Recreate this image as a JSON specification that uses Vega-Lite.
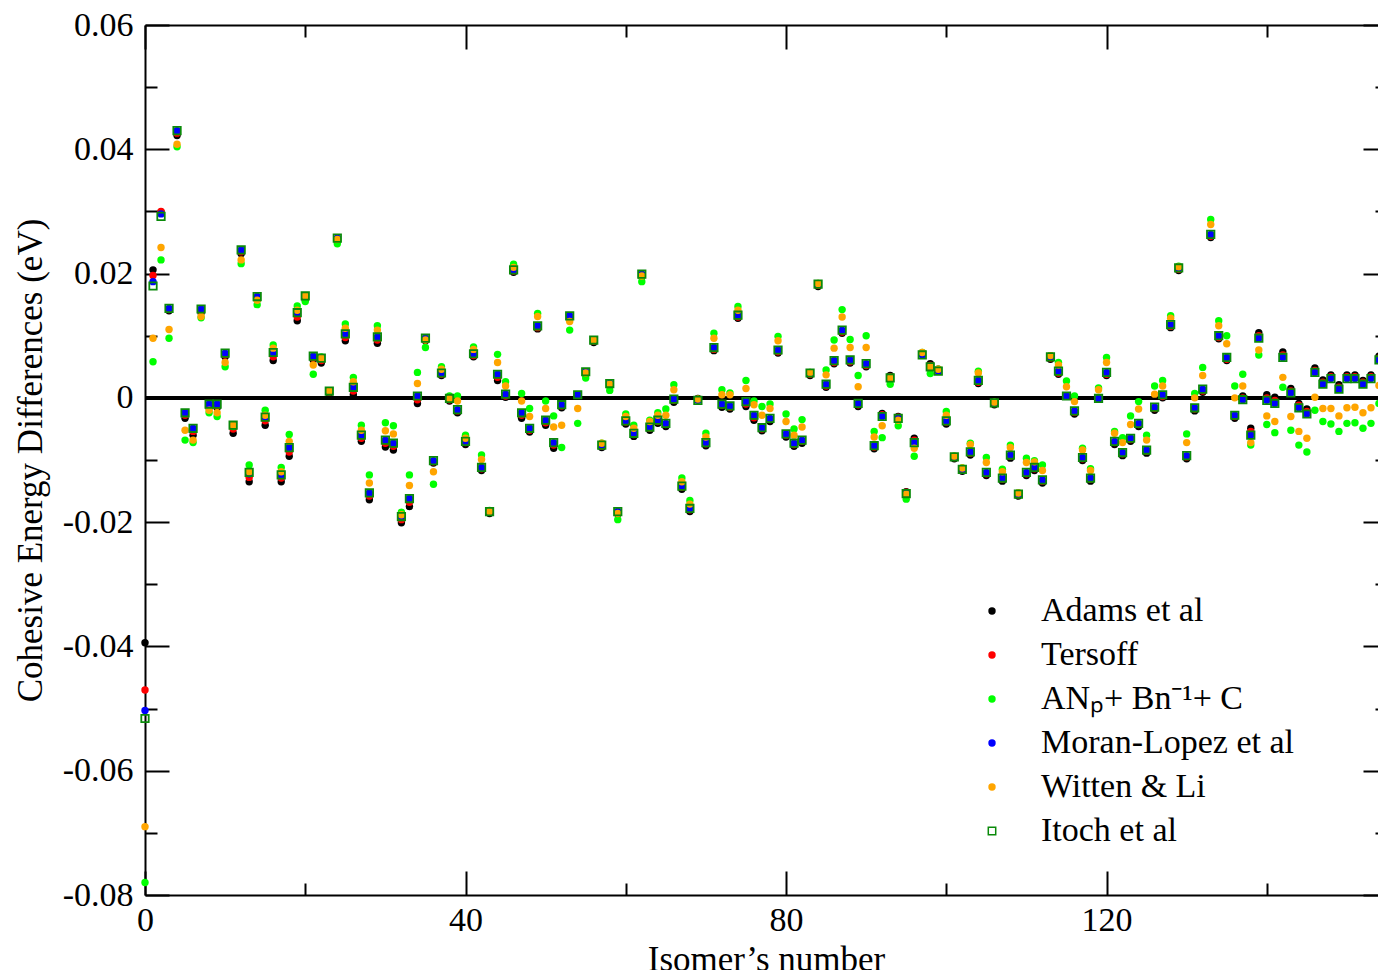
{
"$schema":"https://vega.github.io/schema/vega-lite/v6.json",
"width":1242,"height":870,
"autosize":{"type":"none"},
"padding":{"left":145,"top":25,"right":-9,"bottom":75},
"background":"white",
"config":{"view":{"stroke":null},"font":"Liberation Serif",
"legend":{"orient":"none","legendX":830,"legendY":569,"padding":0,"labelFont":"Liberation Serif","labelFontSize":34,"labelColor":"black","labelOffset":32,"rowPadding":10,"labelLimit":0}},
"data":{"values":[
{"n":0,"s":"a","v":-0.0394},{"n":1,"s":"a","v":0.0206},{"n":2,"s":"a","v":0.0299},{"n":3,"s":"a","v":0.014},{"n":4,"s":"a","v":0.0422},{"n":5,"s":"a","v":-0.0033},{"n":6,"s":"a","v":-0.006},{"n":7,"s":"a","v":0.0137},{"n":8,"s":"a","v":-0.0016},{"n":9,"s":"a","v":-0.0016},
{"n":10,"s":"a","v":0.0066},{"n":11,"s":"a","v":-0.0057},{"n":12,"s":"a","v":0.0232},{"n":13,"s":"a","v":-0.0135},{"n":14,"s":"a","v":0.0158},{"n":15,"s":"a","v":-0.0044},{"n":16,"s":"a","v":0.006},{"n":17,"s":"a","v":-0.0135},{"n":18,"s":"a","v":-0.0094},{"n":19,"s":"a","v":0.0124},
{"n":20,"s":"a","v":0.0158},{"n":21,"s":"a","v":0.0061},{"n":22,"s":"a","v":0.0056},{"n":23,"s":"a","v":0.0007},{"n":24,"s":"a","v":0.0253},{"n":25,"s":"a","v":0.0092},{"n":26,"s":"a","v":0.0005},{"n":27,"s":"a","v":-0.007},{"n":28,"s":"a","v":-0.0164},{"n":29,"s":"a","v":0.0088},
{"n":30,"s":"a","v":-0.0079},{"n":31,"s":"a","v":-0.0084},{"n":32,"s":"a","v":-0.0201},{"n":33,"s":"a","v":-0.0175},{"n":34,"s":"a","v":-0.0009},{"n":35,"s":"a","v":0.0092},{"n":36,"s":"a","v":-0.0105},{"n":37,"s":"a","v":0.0036},{"n":38,"s":"a","v":-0.0005},{"n":39,"s":"a","v":-0.0024},
{"n":40,"s":"a","v":-0.0075},{"n":41,"s":"a","v":0.0066},{"n":42,"s":"a","v":-0.0117},{"n":43,"s":"a","v":-0.0186},{"n":44,"s":"a","v":0.0028},{"n":45,"s":"a","v":0.0001},{"n":46,"s":"a","v":0.0202},{"n":47,"s":"a","v":-0.0033},{"n":48,"s":"a","v":-0.0055},{"n":49,"s":"a","v":0.0111},
{"n":50,"s":"a","v":-0.0044},{"n":51,"s":"a","v":-0.0081},{"n":52,"s":"a","v":-0.0016},{"n":53,"s":"a","v":0.0128},{"n":54,"s":"a","v":0.0004},{"n":55,"s":"a","v":0.0038},{"n":56,"s":"a","v":0.0089},{"n":57,"s":"a","v":-0.008},{"n":58,"s":"a","v":0.0019},{"n":59,"s":"a","v":-0.0187},
{"n":60,"s":"a","v":-0.0042},{"n":61,"s":"a","v":-0.0062},{"n":62,"s":"a","v":0.0195},{"n":63,"s":"a","v":-0.0052},{"n":64,"s":"a","v":-0.0041},{"n":65,"s":"a","v":-0.0046},{"n":66,"s":"a","v":-0.0007},{"n":67,"s":"a","v":-0.0147},{"n":68,"s":"a","v":-0.0183},{"n":69,"s":"a","v":-0.0001},
{"n":70,"s":"a","v":-0.0077},{"n":71,"s":"a","v":0.0076},{"n":72,"s":"a","v":-0.0015},{"n":73,"s":"a","v":-0.0018},{"n":74,"s":"a","v":0.0128},{"n":75,"s":"a","v":-0.0014},{"n":76,"s":"a","v":-0.0036},{"n":77,"s":"a","v":-0.0053},{"n":78,"s":"a","v":-0.0038},{"n":79,"s":"a","v":0.0072},
{"n":80,"s":"a","v":-0.0063},{"n":81,"s":"a","v":-0.0078},{"n":82,"s":"a","v":-0.0073},{"n":83,"s":"a","v":0.0036},{"n":84,"s":"a","v":0.0179},{"n":85,"s":"a","v":0.0017},{"n":86,"s":"a","v":0.0055},{"n":87,"s":"a","v":0.0104},{"n":88,"s":"a","v":0.0056},{"n":89,"s":"a","v":-0.0014},
{"n":90,"s":"a","v":0.005},{"n":91,"s":"a","v":-0.0082},{"n":92,"s":"a","v":-0.0025},{"n":93,"s":"a","v":0.0036},{"n":94,"s":"a","v":-0.003},{"n":95,"s":"a","v":-0.0151},{"n":96,"s":"a","v":-0.0065},{"n":97,"s":"a","v":0.0072},{"n":98,"s":"a","v":0.0055},{"n":99,"s":"a","v":0.0046},
{"n":100,"s":"a","v":-0.0042},{"n":101,"s":"a","v":-0.0098},{"n":102,"s":"a","v":-0.0118},{"n":103,"s":"a","v":-0.0092},{"n":104,"s":"a","v":0.0023},{"n":105,"s":"a","v":-0.0125},{"n":106,"s":"a","v":-0.0011},{"n":107,"s":"a","v":-0.0134},{"n":108,"s":"a","v":-0.0097},{"n":109,"s":"a","v":-0.0158},
{"n":110,"s":"a","v":-0.0125},{"n":111,"s":"a","v":-0.0117},{"n":112,"s":"a","v":-0.0137},{"n":113,"s":"a","v":0.0062},{"n":114,"s":"a","v":0.0038},{"n":115,"s":"a","v":0.0003},{"n":116,"s":"a","v":-0.0026},{"n":117,"s":"a","v":-0.0101},{"n":118,"s":"a","v":-0.0134},{"n":119,"s":"a","v":-0.0001},
{"n":120,"s":"a","v":0.0036},{"n":121,"s":"a","v":-0.0075},{"n":122,"s":"a","v":-0.0093},{"n":123,"s":"a","v":-0.007},{"n":124,"s":"a","v":-0.0046},{"n":125,"s":"a","v":-0.0089},{"n":126,"s":"a","v":-0.002},{"n":127,"s":"a","v":0.0},{"n":128,"s":"a","v":0.0113},{"n":129,"s":"a","v":0.0205},
{"n":130,"s":"a","v":-0.0098},{"n":131,"s":"a","v":-0.0021},{"n":132,"s":"a","v":0.0009},{"n":133,"s":"a","v":0.0258},{"n":134,"s":"a","v":0.0095},{"n":135,"s":"a","v":0.006},{"n":136,"s":"a","v":-0.0033},{"n":137,"s":"a","v":0.0003},{"n":138,"s":"a","v":-0.0049},{"n":139,"s":"a","v":0.0105},
{"n":140,"s":"a","v":0.0005},{"n":141,"s":"a","v":0.0001},{"n":142,"s":"a","v":0.0074},{"n":143,"s":"a","v":0.0015},{"n":144,"s":"a","v":-0.0009},{"n":145,"s":"a","v":-0.0018},{"n":146,"s":"a","v":0.0048},{"n":147,"s":"a","v":0.0029},{"n":148,"s":"a","v":0.0037},{"n":149,"s":"a","v":0.0021},
{"n":150,"s":"a","v":0.0037},{"n":151,"s":"a","v":0.0037},{"n":152,"s":"a","v":0.0028},{"n":153,"s":"a","v":0.0037},{"n":154,"s":"a","v":0.0067},
{"n":0,"s":"t","v":-0.047},{"n":1,"s":"t","v":0.0197},{"n":2,"s":"t","v":0.03},{"n":3,"s":"t","v":0.0142},{"n":4,"s":"t","v":0.0426},{"n":5,"s":"t","v":-0.0028},{"n":6,"s":"t","v":-0.0054},{"n":7,"s":"t","v":0.014},{"n":8,"s":"t","v":-0.0013},{"n":9,"s":"t","v":-0.0013},
{"n":10,"s":"t","v":0.0069},{"n":11,"s":"t","v":-0.005},{"n":12,"s":"t","v":0.0235},{"n":13,"s":"t","v":-0.0128},{"n":14,"s":"t","v":0.016},{"n":15,"s":"t","v":-0.0037},{"n":16,"s":"t","v":0.0066},{"n":17,"s":"t","v":-0.0129},{"n":18,"s":"t","v":-0.0087},{"n":19,"s":"t","v":0.013},
{"n":20,"s":"t","v":0.0161},{"n":21,"s":"t","v":0.0064},{"n":22,"s":"t","v":0.006},{"n":23,"s":"t","v":0.0009},{"n":24,"s":"t","v":0.0255},{"n":25,"s":"t","v":0.0097},{"n":26,"s":"t","v":0.0011},{"n":27,"s":"t","v":-0.0065},{"n":28,"s":"t","v":-0.0158},{"n":29,"s":"t","v":0.0093},
{"n":30,"s":"t","v":-0.0073},{"n":31,"s":"t","v":-0.0078},{"n":32,"s":"t","v":-0.0196},{"n":33,"s":"t","v":-0.0168},{"n":34,"s":"t","v":-0.0003},{"n":35,"s":"t","v":0.0094},{"n":36,"s":"t","v":-0.0103},{"n":37,"s":"t","v":0.0038},{"n":38,"s":"t","v":-0.0003},{"n":39,"s":"t","v":-0.0021},
{"n":40,"s":"t","v":-0.0072},{"n":41,"s":"t","v":0.0068},{"n":42,"s":"t","v":-0.0114},{"n":43,"s":"t","v":-0.0184},{"n":44,"s":"t","v":0.0033},{"n":45,"s":"t","v":0.0003},{"n":46,"s":"t","v":0.0204},{"n":47,"s":"t","v":-0.0028},{"n":48,"s":"t","v":-0.0052},{"n":49,"s":"t","v":0.0113},
{"n":50,"s":"t","v":-0.004},{"n":51,"s":"t","v":-0.0076},{"n":52,"s":"t","v":-0.0013},{"n":53,"s":"t","v":0.013},{"n":54,"s":"t","v":0.0004},{"n":55,"s":"t","v":0.004},{"n":56,"s":"t","v":0.0091},{"n":57,"s":"t","v":-0.0078},{"n":58,"s":"t","v":0.0021},{"n":59,"s":"t","v":-0.0185},
{"n":60,"s":"t","v":-0.0039},{"n":61,"s":"t","v":-0.0059},{"n":62,"s":"t","v":0.0197},{"n":63,"s":"t","v":-0.0049},{"n":64,"s":"t","v":-0.0038},{"n":65,"s":"t","v":-0.0043},{"n":66,"s":"t","v":-0.0004},{"n":67,"s":"t","v":-0.0144},{"n":68,"s":"t","v":-0.018},{"n":69,"s":"t","v":-0.0002},
{"n":70,"s":"t","v":-0.0074},{"n":71,"s":"t","v":0.0078},{"n":72,"s":"t","v":-0.0012},{"n":73,"s":"t","v":-0.0015},{"n":74,"s":"t","v":0.013},{"n":75,"s":"t","v":-0.001},{"n":76,"s":"t","v":-0.0032},{"n":77,"s":"t","v":-0.005},{"n":78,"s":"t","v":-0.0035},{"n":79,"s":"t","v":0.0074},
{"n":80,"s":"t","v":-0.006},{"n":81,"s":"t","v":-0.0075},{"n":82,"s":"t","v":-0.007},{"n":83,"s":"t","v":0.0038},{"n":84,"s":"t","v":0.0181},{"n":85,"s":"t","v":0.0019},{"n":86,"s":"t","v":0.0057},{"n":87,"s":"t","v":0.0106},{"n":88,"s":"t","v":0.0058},{"n":89,"s":"t","v":-0.0011},
{"n":90,"s":"t","v":0.0052},{"n":91,"s":"t","v":-0.0079},{"n":92,"s":"t","v":-0.0027},{"n":93,"s":"t","v":0.0034},{"n":94,"s":"t","v":-0.0031},{"n":95,"s":"t","v":-0.0152},{"n":96,"s":"t","v":-0.0068},{"n":97,"s":"t","v":0.007},{"n":98,"s":"t","v":0.0052},{"n":99,"s":"t","v":0.0044},
{"n":100,"s":"t","v":-0.0039},{"n":101,"s":"t","v":-0.0096},{"n":102,"s":"t","v":-0.0116},{"n":103,"s":"t","v":-0.0089},{"n":104,"s":"t","v":0.0025},{"n":105,"s":"t","v":-0.0122},{"n":106,"s":"t","v":-0.0009},{"n":107,"s":"t","v":-0.0131},{"n":108,"s":"t","v":-0.0094},{"n":109,"s":"t","v":-0.0156},
{"n":110,"s":"t","v":-0.0122},{"n":111,"s":"t","v":-0.0114},{"n":112,"s":"t","v":-0.0134},{"n":113,"s":"t","v":0.0064},{"n":114,"s":"t","v":0.004},{"n":115,"s":"t","v":0.0003},{"n":116,"s":"t","v":-0.0023},{"n":117,"s":"t","v":-0.0098},{"n":118,"s":"t","v":-0.0131},{"n":119,"s":"t","v":-0.0001},
{"n":120,"s":"t","v":0.0038},{"n":121,"s":"t","v":-0.0072},{"n":122,"s":"t","v":-0.009},{"n":123,"s":"t","v":-0.0067},{"n":124,"s":"t","v":-0.0043},{"n":125,"s":"t","v":-0.0086},{"n":126,"s":"t","v":-0.0017},{"n":127,"s":"t","v":0.0002},{"n":128,"s":"t","v":0.0115},{"n":129,"s":"t","v":0.0207},
{"n":130,"s":"t","v":-0.0095},{"n":131,"s":"t","v":-0.0018},{"n":132,"s":"t","v":0.0011},{"n":133,"s":"t","v":0.026},{"n":134,"s":"t","v":0.0097},{"n":135,"s":"t","v":0.0062},{"n":136,"s":"t","v":-0.003},{"n":137,"s":"t","v":0.0},{"n":138,"s":"t","v":-0.0054},{"n":139,"s":"t","v":0.01},
{"n":140,"s":"t","v":0.0},{"n":141,"s":"t","v":-0.0004},{"n":142,"s":"t","v":0.0069},{"n":143,"s":"t","v":0.0011},{"n":144,"s":"t","v":-0.0012},{"n":145,"s":"t","v":-0.0022},{"n":146,"s":"t","v":0.0044},{"n":147,"s":"t","v":0.0025},{"n":148,"s":"t","v":0.0034},{"n":149,"s":"t","v":0.0017},
{"n":150,"s":"t","v":0.0034},{"n":151,"s":"t","v":0.0034},{"n":152,"s":"t","v":0.0025},{"n":153,"s":"t","v":0.0034},{"n":154,"s":"t","v":0.0064},
{"n":0,"s":"g","v":-0.078},{"n":1,"s":"g","v":0.0058},{"n":2,"s":"g","v":0.0222},{"n":3,"s":"g","v":0.0096},{"n":4,"s":"g","v":0.0404},{"n":5,"s":"g","v":-0.0068},{"n":6,"s":"g","v":-0.0072},{"n":7,"s":"g","v":0.0129},{"n":8,"s":"g","v":-0.0024},{"n":9,"s":"g","v":-0.003},
{"n":10,"s":"g","v":0.005},{"n":11,"s":"g","v":-0.0046},{"n":12,"s":"g","v":0.0216},{"n":13,"s":"g","v":-0.0108},{"n":14,"s":"g","v":0.015},{"n":15,"s":"g","v":-0.002},{"n":16,"s":"g","v":0.0085},{"n":17,"s":"g","v":-0.0112},{"n":18,"s":"g","v":-0.0059},{"n":19,"s":"g","v":0.0148},
{"n":20,"s":"g","v":0.0155},{"n":21,"s":"g","v":0.0038},{"n":22,"s":"g","v":0.0066},{"n":23,"s":"g","v":0.0011},{"n":24,"s":"g","v":0.0248},{"n":25,"s":"g","v":0.0119},{"n":26,"s":"g","v":0.0033},{"n":27,"s":"g","v":-0.0044},{"n":28,"s":"g","v":-0.0124},{"n":29,"s":"g","v":0.0116},
{"n":30,"s":"g","v":-0.004},{"n":31,"s":"g","v":-0.0045},{"n":32,"s":"g","v":-0.0184},{"n":33,"s":"g","v":-0.0124},{"n":34,"s":"g","v":0.0041},{"n":35,"s":"g","v":0.0081},{"n":36,"s":"g","v":-0.0139},{"n":37,"s":"g","v":0.005},{"n":38,"s":"g","v":0.0003},{"n":39,"s":"g","v":0.0003},
{"n":40,"s":"g","v":-0.006},{"n":41,"s":"g","v":0.0082},{"n":42,"s":"g","v":-0.0092},{"n":43,"s":"g","v":-0.0181},{"n":44,"s":"g","v":0.007},{"n":45,"s":"g","v":0.0026},{"n":46,"s":"g","v":0.0215},{"n":47,"s":"g","v":0.0007},{"n":48,"s":"g","v":-0.0017},{"n":49,"s":"g","v":0.0136},
{"n":50,"s":"g","v":-0.0005},{"n":51,"s":"g","v":-0.0029},{"n":52,"s":"g","v":-0.008},{"n":53,"s":"g","v":0.0109},{"n":54,"s":"g","v":-0.0041},{"n":55,"s":"g","v":0.0032},{"n":56,"s":"g","v":0.0093},{"n":57,"s":"g","v":-0.0073},{"n":58,"s":"g","v":0.0012},{"n":59,"s":"g","v":-0.0196},
{"n":60,"s":"g","v":-0.0026},{"n":61,"s":"g","v":-0.0044},{"n":62,"s":"g","v":0.0187},{"n":63,"s":"g","v":-0.0036},{"n":64,"s":"g","v":-0.0024},{"n":65,"s":"g","v":-0.0018},{"n":66,"s":"g","v":0.0021},{"n":67,"s":"g","v":-0.0129},{"n":68,"s":"g","v":-0.0165},{"n":69,"s":"g","v":-0.0002},
{"n":70,"s":"g","v":-0.0057},{"n":71,"s":"g","v":0.0104},{"n":72,"s":"g","v":0.0013},{"n":73,"s":"g","v":0.0008},{"n":74,"s":"g","v":0.0147},{"n":75,"s":"g","v":0.0028},{"n":76,"s":"g","v":-0.0005},{"n":77,"s":"g","v":-0.0014},{"n":78,"s":"g","v":-0.001},{"n":79,"s":"g","v":0.0099},
{"n":80,"s":"g","v":-0.0026},{"n":81,"s":"g","v":-0.005},{"n":82,"s":"g","v":-0.0035},{"n":83,"s":"g","v":0.0041},{"n":84,"s":"g","v":0.0184},{"n":85,"s":"g","v":0.0045},{"n":86,"s":"g","v":0.0093},{"n":87,"s":"g","v":0.0142},{"n":88,"s":"g","v":0.0094},{"n":89,"s":"g","v":0.0036},
{"n":90,"s":"g","v":0.01},{"n":91,"s":"g","v":-0.0054},{"n":92,"s":"g","v":-0.0064},{"n":93,"s":"g","v":0.0022},{"n":94,"s":"g","v":-0.0045},{"n":95,"s":"g","v":-0.0163},{"n":96,"s":"g","v":-0.0094},{"n":97,"s":"g","v":0.0073},{"n":98,"s":"g","v":0.0039},{"n":99,"s":"g","v":0.0046},
{"n":100,"s":"g","v":-0.0022},{"n":101,"s":"g","v":-0.0094},{"n":102,"s":"g","v":-0.0113},{"n":103,"s":"g","v":-0.0073},{"n":104,"s":"g","v":0.0043},{"n":105,"s":"g","v":-0.0096},{"n":106,"s":"g","v":-0.0007},{"n":107,"s":"g","v":-0.0115},{"n":108,"s":"g","v":-0.0076},{"n":109,"s":"g","v":-0.0153},
{"n":110,"s":"g","v":-0.0097},{"n":111,"s":"g","v":-0.0101},{"n":112,"s":"g","v":-0.0108},{"n":113,"s":"g","v":0.0068},{"n":114,"s":"g","v":0.0057},{"n":115,"s":"g","v":0.0027},{"n":116,"s":"g","v":0.0003},{"n":117,"s":"g","v":-0.0081},{"n":118,"s":"g","v":-0.0114},{"n":119,"s":"g","v":0.0016},
{"n":120,"s":"g","v":0.0065},{"n":121,"s":"g","v":-0.0054},{"n":122,"s":"g","v":-0.0064},{"n":123,"s":"g","v":-0.0029},{"n":124,"s":"g","v":-0.0006},{"n":125,"s":"g","v":-0.006},{"n":126,"s":"g","v":0.0019},{"n":127,"s":"g","v":0.0028},{"n":128,"s":"g","v":0.0132},{"n":129,"s":"g","v":0.0212},
{"n":130,"s":"g","v":-0.0058},{"n":131,"s":"g","v":0.0007},{"n":132,"s":"g","v":0.0049},{"n":133,"s":"g","v":0.0287},{"n":134,"s":"g","v":0.0124},{"n":135,"s":"g","v":0.01},{"n":136,"s":"g","v":0.0019},{"n":137,"s":"g","v":0.0038},{"n":138,"s":"g","v":-0.0076},{"n":139,"s":"g","v":0.0069},
{"n":140,"s":"g","v":-0.0043},{"n":141,"s":"g","v":-0.0056},{"n":142,"s":"g","v":0.0017},{"n":143,"s":"g","v":-0.0052},{"n":144,"s":"g","v":-0.0076},{"n":145,"s":"g","v":-0.0087},{"n":146,"s":"g","v":-0.002},{"n":147,"s":"g","v":-0.0038},{"n":148,"s":"g","v":-0.0042},{"n":149,"s":"g","v":-0.0054},
{"n":150,"s":"g","v":-0.0041},{"n":151,"s":"g","v":-0.004},{"n":152,"s":"g","v":-0.0049},{"n":153,"s":"g","v":-0.0041},{"n":154,"s":"g","v":-0.0009},
{"n":0,"s":"m","v":-0.0503},{"n":1,"s":"m","v":0.0187},{"n":2,"s":"m","v":0.0296},{"n":3,"s":"m","v":0.0144},{"n":4,"s":"m","v":0.043},{"n":5,"s":"m","v":-0.0024},{"n":6,"s":"m","v":-0.0049},{"n":7,"s":"m","v":0.0143},{"n":8,"s":"m","v":-0.001},{"n":9,"s":"m","v":-0.001},
{"n":10,"s":"m","v":0.0072},{"n":11,"s":"m","v":-0.0044},{"n":12,"s":"m","v":0.0238},{"n":13,"s":"m","v":-0.0122},{"n":14,"s":"m","v":0.0163},{"n":15,"s":"m","v":-0.0031},{"n":16,"s":"m","v":0.0073},{"n":17,"s":"m","v":-0.0124},{"n":18,"s":"m","v":-0.008},{"n":19,"s":"m","v":0.0137},
{"n":20,"s":"m","v":0.0164},{"n":21,"s":"m","v":0.0067},{"n":22,"s":"m","v":0.0064},{"n":23,"s":"m","v":0.0011},{"n":24,"s":"m","v":0.0257},{"n":25,"s":"m","v":0.0103},{"n":26,"s":"m","v":0.0017},{"n":27,"s":"m","v":-0.006},{"n":28,"s":"m","v":-0.0153},{"n":29,"s":"m","v":0.0098},
{"n":30,"s":"m","v":-0.0068},{"n":31,"s":"m","v":-0.0073},{"n":32,"s":"m","v":-0.0191},{"n":33,"s":"m","v":-0.0162},{"n":34,"s":"m","v":0.0003},{"n":35,"s":"m","v":0.0096},{"n":36,"s":"m","v":-0.0101},{"n":37,"s":"m","v":0.004},{"n":38,"s":"m","v":-0.0001},{"n":39,"s":"m","v":-0.0019},
{"n":40,"s":"m","v":-0.007},{"n":41,"s":"m","v":0.0071},{"n":42,"s":"m","v":-0.0112},{"n":43,"s":"m","v":-0.0183},{"n":44,"s":"m","v":0.0038},{"n":45,"s":"m","v":0.0006},{"n":46,"s":"m","v":0.0206},{"n":47,"s":"m","v":-0.0024},{"n":48,"s":"m","v":-0.0049},{"n":49,"s":"m","v":0.0116},
{"n":50,"s":"m","v":-0.0036},{"n":51,"s":"m","v":-0.0072},{"n":52,"s":"m","v":-0.0011},{"n":53,"s":"m","v":0.0132},{"n":54,"s":"m","v":0.0005},{"n":55,"s":"m","v":0.0042},{"n":56,"s":"m","v":0.0093},{"n":57,"s":"m","v":-0.0076},{"n":58,"s":"m","v":0.0023},{"n":59,"s":"m","v":-0.0183},
{"n":60,"s":"m","v":-0.0037},{"n":61,"s":"m","v":-0.0057},{"n":62,"s":"m","v":0.0199},{"n":63,"s":"m","v":-0.0047},{"n":64,"s":"m","v":-0.0036},{"n":65,"s":"m","v":-0.0041},{"n":66,"s":"m","v":-0.0002},{"n":67,"s":"m","v":-0.0142},{"n":68,"s":"m","v":-0.0178},{"n":69,"s":"m","v":-0.0004},
{"n":70,"s":"m","v":-0.0072},{"n":71,"s":"m","v":0.0081},{"n":72,"s":"m","v":-0.001},{"n":73,"s":"m","v":-0.0013},{"n":74,"s":"m","v":0.0133},{"n":75,"s":"m","v":-0.0006},{"n":76,"s":"m","v":-0.0028},{"n":77,"s":"m","v":-0.0048},{"n":78,"s":"m","v":-0.0033},{"n":79,"s":"m","v":0.0077},
{"n":80,"s":"m","v":-0.0058},{"n":81,"s":"m","v":-0.0073},{"n":82,"s":"m","v":-0.0068},{"n":83,"s":"m","v":0.004},{"n":84,"s":"m","v":0.0183},{"n":85,"s":"m","v":0.0022},{"n":86,"s":"m","v":0.006},{"n":87,"s":"m","v":0.0109},{"n":88,"s":"m","v":0.0061},{"n":89,"s":"m","v":-0.0009},
{"n":90,"s":"m","v":0.0055},{"n":91,"s":"m","v":-0.0077},{"n":92,"s":"m","v":-0.003},{"n":93,"s":"m","v":0.0032},{"n":94,"s":"m","v":-0.0033},{"n":95,"s":"m","v":-0.0154},{"n":96,"s":"m","v":-0.0072},{"n":97,"s":"m","v":0.0069},{"n":98,"s":"m","v":0.005},{"n":99,"s":"m","v":0.0043},
{"n":100,"s":"m","v":-0.0037},{"n":101,"s":"m","v":-0.0095},{"n":102,"s":"m","v":-0.0115},{"n":103,"s":"m","v":-0.0087},{"n":104,"s":"m","v":0.0028},{"n":105,"s":"m","v":-0.012},{"n":106,"s":"m","v":-0.0008},{"n":107,"s":"m","v":-0.0129},{"n":108,"s":"m","v":-0.0092},{"n":109,"s":"m","v":-0.0155},
{"n":110,"s":"m","v":-0.012},{"n":111,"s":"m","v":-0.0112},{"n":112,"s":"m","v":-0.0132},{"n":113,"s":"m","v":0.0066},{"n":114,"s":"m","v":0.0043},{"n":115,"s":"m","v":0.0003},{"n":116,"s":"m","v":-0.0021},{"n":117,"s":"m","v":-0.0096},{"n":118,"s":"m","v":-0.0129},{"n":119,"s":"m","v":-0.0001},
{"n":120,"s":"m","v":0.0041},{"n":121,"s":"m","v":-0.007},{"n":122,"s":"m","v":-0.0088},{"n":123,"s":"m","v":-0.0065},{"n":124,"s":"m","v":-0.0041},{"n":125,"s":"m","v":-0.0084},{"n":126,"s":"m","v":-0.0015},{"n":127,"s":"m","v":0.0005},{"n":128,"s":"m","v":0.0118},{"n":129,"s":"m","v":0.0209},
{"n":130,"s":"m","v":-0.0093},{"n":131,"s":"m","v":-0.0016},{"n":132,"s":"m","v":0.0014},{"n":133,"s":"m","v":0.0263},{"n":134,"s":"m","v":0.01},{"n":135,"s":"m","v":0.0065},{"n":136,"s":"m","v":-0.0028},{"n":137,"s":"m","v":-0.0003},{"n":138,"s":"m","v":-0.006},{"n":139,"s":"m","v":0.0096},
{"n":140,"s":"m","v":-0.0004},{"n":141,"s":"m","v":-0.0009},{"n":142,"s":"m","v":0.0065},{"n":143,"s":"m","v":0.0008},{"n":144,"s":"m","v":-0.0016},{"n":145,"s":"m","v":-0.0026},{"n":146,"s":"m","v":0.0041},{"n":147,"s":"m","v":0.0022},{"n":148,"s":"m","v":0.0031},{"n":149,"s":"m","v":0.0014},
{"n":150,"s":"m","v":0.0031},{"n":151,"s":"m","v":0.0031},{"n":152,"s":"m","v":0.0022},{"n":153,"s":"m","v":0.0031},{"n":154,"s":"m","v":0.0061},
{"n":0,"s":"w","v":-0.069},{"n":1,"s":"w","v":0.0096},{"n":2,"s":"w","v":0.0242},{"n":3,"s":"w","v":0.011},{"n":4,"s":"w","v":0.0408},{"n":5,"s":"w","v":-0.0052},{"n":6,"s":"w","v":-0.0068},{"n":7,"s":"w","v":0.0131},{"n":8,"s":"w","v":-0.002},{"n":9,"s":"w","v":-0.0024},
{"n":10,"s":"w","v":0.0057},{"n":11,"s":"w","v":-0.0044},{"n":12,"s":"w","v":0.0222},{"n":13,"s":"w","v":-0.0119},{"n":14,"s":"w","v":0.0157},{"n":15,"s":"w","v":-0.0028},{"n":16,"s":"w","v":0.008},{"n":17,"s":"w","v":-0.0119},{"n":18,"s":"w","v":-0.007},{"n":19,"s":"w","v":0.0141},
{"n":20,"s":"w","v":0.0164},{"n":21,"s":"w","v":0.0053},{"n":22,"s":"w","v":0.0064},{"n":23,"s":"w","v":0.0011},{"n":24,"s":"w","v":0.0255},{"n":25,"s":"w","v":0.0112},{"n":26,"s":"w","v":0.0026},{"n":27,"s":"w","v":-0.0052},{"n":28,"s":"w","v":-0.0137},{"n":29,"s":"w","v":0.0109},
{"n":30,"s":"w","v":-0.0053},{"n":31,"s":"w","v":-0.0058},{"n":32,"s":"w","v":-0.0188},{"n":33,"s":"w","v":-0.0141},{"n":34,"s":"w","v":0.0023},{"n":35,"s":"w","v":0.0093},{"n":36,"s":"w","v":-0.0119},{"n":37,"s":"w","v":0.0046},{"n":38,"s":"w","v":-0.0001},{"n":39,"s":"w","v":-0.0005},
{"n":40,"s":"w","v":-0.0065},{"n":41,"s":"w","v":0.0078},{"n":42,"s":"w","v":-0.0099},{"n":43,"s":"w","v":-0.0183},{"n":44,"s":"w","v":0.0057},{"n":45,"s":"w","v":0.0019},{"n":46,"s":"w","v":0.021},{"n":47,"s":"w","v":-0.0005},{"n":48,"s":"w","v":-0.003},{"n":49,"s":"w","v":0.0131},
{"n":50,"s":"w","v":-0.0017},{"n":51,"s":"w","v":-0.0047},{"n":52,"s":"w","v":-0.0044},{"n":53,"s":"w","v":0.0123},{"n":54,"s":"w","v":-0.0017},{"n":55,"s":"w","v":0.004},{"n":56,"s":"w","v":0.0093},{"n":57,"s":"w","v":-0.0073},{"n":58,"s":"w","v":0.0022},{"n":59,"s":"w","v":-0.0186},
{"n":60,"s":"w","v":-0.003},{"n":61,"s":"w","v":-0.0049},{"n":62,"s":"w","v":0.0196},{"n":63,"s":"w","v":-0.0038},{"n":64,"s":"w","v":-0.0028},{"n":65,"s":"w","v":-0.0028},{"n":66,"s":"w","v":0.0013},{"n":67,"s":"w","v":-0.0135},{"n":68,"s":"w","v":-0.0171},{"n":69,"s":"w","v":-0.0002},
{"n":70,"s":"w","v":-0.0063},{"n":71,"s":"w","v":0.0096},{"n":72,"s":"w","v":0.0005},{"n":73,"s":"w","v":0.0005},{"n":74,"s":"w","v":0.0141},{"n":75,"s":"w","v":0.0015},{"n":76,"s":"w","v":-0.0011},{"n":77,"s":"w","v":-0.0028},{"n":78,"s":"w","v":-0.0017},{"n":79,"s":"w","v":0.0092},
{"n":80,"s":"w","v":-0.0038},{"n":81,"s":"w","v":-0.006},{"n":82,"s":"w","v":-0.0047},{"n":83,"s":"w","v":0.0041},{"n":84,"s":"w","v":0.0184},{"n":85,"s":"w","v":0.0037},{"n":86,"s":"w","v":0.008},{"n":87,"s":"w","v":0.013},{"n":88,"s":"w","v":0.0081},{"n":89,"s":"w","v":0.0018},
{"n":90,"s":"w","v":0.0081},{"n":91,"s":"w","v":-0.0063},{"n":92,"s":"w","v":-0.0045},{"n":93,"s":"w","v":0.0032},{"n":94,"s":"w","v":-0.0036},{"n":95,"s":"w","v":-0.0155},{"n":96,"s":"w","v":-0.0081},{"n":97,"s":"w","v":0.0073},{"n":98,"s":"w","v":0.005},{"n":99,"s":"w","v":0.0046},
{"n":100,"s":"w","v":-0.0028},{"n":101,"s":"w","v":-0.0094},{"n":102,"s":"w","v":-0.0113},{"n":103,"s":"w","v":-0.0075},{"n":104,"s":"w","v":0.004},{"n":105,"s":"w","v":-0.0104},{"n":106,"s":"w","v":-0.0007},{"n":107,"s":"w","v":-0.0119},{"n":108,"s":"w","v":-0.008},{"n":109,"s":"w","v":-0.0153},
{"n":110,"s":"w","v":-0.0104},{"n":111,"s":"w","v":-0.0103},{"n":112,"s":"w","v":-0.0117},{"n":113,"s":"w","v":0.0068},{"n":114,"s":"w","v":0.0053},{"n":115,"s":"w","v":0.0018},{"n":116,"s":"w","v":-0.0006},{"n":117,"s":"w","v":-0.0084},{"n":118,"s":"w","v":-0.0117},{"n":119,"s":"w","v":0.0013},
{"n":120,"s":"w","v":0.0057},{"n":121,"s":"w","v":-0.0057},{"n":122,"s":"w","v":-0.0072},{"n":123,"s":"w","v":-0.0043},{"n":124,"s":"w","v":-0.0018},{"n":125,"s":"w","v":-0.0068},{"n":126,"s":"w","v":0.0006},{"n":127,"s":"w","v":0.0019},{"n":128,"s":"w","v":0.0128},{"n":129,"s":"w","v":0.0211},
{"n":130,"s":"w","v":-0.0072},{"n":131,"s":"w","v":0.0},{"n":132,"s":"w","v":0.0036},{"n":133,"s":"w","v":0.0279},{"n":134,"s":"w","v":0.0116},{"n":135,"s":"w","v":0.0087},{"n":136,"s":"w","v":0.0},{"n":137,"s":"w","v":0.0019},{"n":138,"s":"w","v":-0.0072},{"n":139,"s":"w","v":0.0077},
{"n":140,"s":"w","v":-0.0029},{"n":141,"s":"w","v":-0.0038},{"n":142,"s":"w","v":0.0033},{"n":143,"s":"w","v":-0.003},{"n":144,"s":"w","v":-0.0054},{"n":145,"s":"w","v":-0.0065},{"n":146,"s":"w","v":0.0001},{"n":147,"s":"w","v":-0.0017},{"n":148,"s":"w","v":-0.0017},{"n":149,"s":"w","v":-0.0029},
{"n":150,"s":"w","v":-0.0016},{"n":151,"s":"w","v":-0.0015},{"n":152,"s":"w","v":-0.0024},{"n":153,"s":"w","v":-0.0016},{"n":154,"s":"w","v":0.002},
{"n":0,"s":"i","v":-0.0516},{"n":1,"s":"i","v":0.018},{"n":2,"s":"i","v":0.0292},{"n":3,"s":"i","v":0.0144},{"n":4,"s":"i","v":0.043},{"n":5,"s":"i","v":-0.0024},{"n":6,"s":"i","v":-0.0049},{"n":7,"s":"i","v":0.0143},{"n":8,"s":"i","v":-0.001},{"n":9,"s":"i","v":-0.001},
{"n":10,"s":"i","v":0.0072},{"n":11,"s":"i","v":-0.0044},{"n":12,"s":"i","v":0.0238},{"n":13,"s":"i","v":-0.012},{"n":14,"s":"i","v":0.0163},{"n":15,"s":"i","v":-0.0031},{"n":16,"s":"i","v":0.0073},{"n":17,"s":"i","v":-0.0124},{"n":18,"s":"i","v":-0.008},{"n":19,"s":"i","v":0.0137},
{"n":20,"s":"i","v":0.0164},{"n":21,"s":"i","v":0.0067},{"n":22,"s":"i","v":0.0064},{"n":23,"s":"i","v":0.0011},{"n":24,"s":"i","v":0.0257},{"n":25,"s":"i","v":0.0103},{"n":26,"s":"i","v":0.0017},{"n":27,"s":"i","v":-0.006},{"n":28,"s":"i","v":-0.0153},{"n":29,"s":"i","v":0.0098},
{"n":30,"s":"i","v":-0.0068},{"n":31,"s":"i","v":-0.0073},{"n":32,"s":"i","v":-0.0191},{"n":33,"s":"i","v":-0.0162},{"n":34,"s":"i","v":0.0003},{"n":35,"s":"i","v":0.0096},{"n":36,"s":"i","v":-0.0101},{"n":37,"s":"i","v":0.004},{"n":38,"s":"i","v":-0.0001},{"n":39,"s":"i","v":-0.0019},
{"n":40,"s":"i","v":-0.007},{"n":41,"s":"i","v":0.0071},{"n":42,"s":"i","v":-0.0112},{"n":43,"s":"i","v":-0.0183},{"n":44,"s":"i","v":0.0038},{"n":45,"s":"i","v":0.0006},{"n":46,"s":"i","v":0.0206},{"n":47,"s":"i","v":-0.0024},{"n":48,"s":"i","v":-0.0049},{"n":49,"s":"i","v":0.0116},
{"n":50,"s":"i","v":-0.0036},{"n":51,"s":"i","v":-0.0072},{"n":52,"s":"i","v":-0.0011},{"n":53,"s":"i","v":0.0132},{"n":54,"s":"i","v":0.0005},{"n":55,"s":"i","v":0.0042},{"n":56,"s":"i","v":0.0093},{"n":57,"s":"i","v":-0.0076},{"n":58,"s":"i","v":0.0023},{"n":59,"s":"i","v":-0.0183},
{"n":60,"s":"i","v":-0.0037},{"n":61,"s":"i","v":-0.0057},{"n":62,"s":"i","v":0.0199},{"n":63,"s":"i","v":-0.0047},{"n":64,"s":"i","v":-0.0036},{"n":65,"s":"i","v":-0.0041},{"n":66,"s":"i","v":-0.0002},{"n":67,"s":"i","v":-0.0142},{"n":68,"s":"i","v":-0.0178},{"n":69,"s":"i","v":-0.0004},
{"n":70,"s":"i","v":-0.0072},{"n":71,"s":"i","v":0.0081},{"n":72,"s":"i","v":-0.001},{"n":73,"s":"i","v":-0.0013},{"n":74,"s":"i","v":0.0133},{"n":75,"s":"i","v":-0.0006},{"n":76,"s":"i","v":-0.0028},{"n":77,"s":"i","v":-0.0048},{"n":78,"s":"i","v":-0.0033},{"n":79,"s":"i","v":0.0077},
{"n":80,"s":"i","v":-0.0058},{"n":81,"s":"i","v":-0.0073},{"n":82,"s":"i","v":-0.0068},{"n":83,"s":"i","v":0.004},{"n":84,"s":"i","v":0.0183},{"n":85,"s":"i","v":0.0022},{"n":86,"s":"i","v":0.006},{"n":87,"s":"i","v":0.0109},{"n":88,"s":"i","v":0.0061},{"n":89,"s":"i","v":-0.0009},
{"n":90,"s":"i","v":0.0055},{"n":91,"s":"i","v":-0.0077},{"n":92,"s":"i","v":-0.003},{"n":93,"s":"i","v":0.0032},{"n":94,"s":"i","v":-0.0033},{"n":95,"s":"i","v":-0.0154},{"n":96,"s":"i","v":-0.0072},{"n":97,"s":"i","v":0.0069},{"n":98,"s":"i","v":0.005},{"n":99,"s":"i","v":0.0043},
{"n":100,"s":"i","v":-0.0037},{"n":101,"s":"i","v":-0.0095},{"n":102,"s":"i","v":-0.0115},{"n":103,"s":"i","v":-0.0087},{"n":104,"s":"i","v":0.0028},{"n":105,"s":"i","v":-0.012},{"n":106,"s":"i","v":-0.0008},{"n":107,"s":"i","v":-0.0129},{"n":108,"s":"i","v":-0.0092},{"n":109,"s":"i","v":-0.0155},
{"n":110,"s":"i","v":-0.012},{"n":111,"s":"i","v":-0.0112},{"n":112,"s":"i","v":-0.0132},{"n":113,"s":"i","v":0.0066},{"n":114,"s":"i","v":0.0043},{"n":115,"s":"i","v":0.0003},{"n":116,"s":"i","v":-0.0021},{"n":117,"s":"i","v":-0.0096},{"n":118,"s":"i","v":-0.0129},{"n":119,"s":"i","v":-0.0001},
{"n":120,"s":"i","v":0.0041},{"n":121,"s":"i","v":-0.007},{"n":122,"s":"i","v":-0.0088},{"n":123,"s":"i","v":-0.0065},{"n":124,"s":"i","v":-0.0041},{"n":125,"s":"i","v":-0.0084},{"n":126,"s":"i","v":-0.0015},{"n":127,"s":"i","v":0.0005},{"n":128,"s":"i","v":0.0118},{"n":129,"s":"i","v":0.0209},
{"n":130,"s":"i","v":-0.0093},{"n":131,"s":"i","v":-0.0016},{"n":132,"s":"i","v":0.0014},{"n":133,"s":"i","v":0.0263},{"n":134,"s":"i","v":0.01},{"n":135,"s":"i","v":0.0065},{"n":136,"s":"i","v":-0.0028},{"n":137,"s":"i","v":-0.0003},{"n":138,"s":"i","v":-0.006},{"n":139,"s":"i","v":0.0096},
{"n":140,"s":"i","v":-0.0004},{"n":141,"s":"i","v":-0.0009},{"n":142,"s":"i","v":0.0065},{"n":143,"s":"i","v":0.0008},{"n":144,"s":"i","v":-0.0016},{"n":145,"s":"i","v":-0.0026},{"n":146,"s":"i","v":0.0041},{"n":147,"s":"i","v":0.0022},{"n":148,"s":"i","v":0.0031},{"n":149,"s":"i","v":0.0014},
{"n":150,"s":"i","v":0.0031},{"n":151,"s":"i","v":0.0031},{"n":152,"s":"i","v":0.0022},{"n":153,"s":"i","v":0.0031},{"n":154,"s":"i","v":0.0061}
]},
"layer":[
{"mark":{"type":"rule","color":"black","strokeWidth":3.5},
 "encoding":{"y":{"datum":0,"type":"quantitative","scale":{"domain":[-0.08,0.06],"nice":false,"zero":false},"axis":null}}},
{"mark":{"type":"point","opacity":1,"strokeWidth":1.8},
 "encoding":{
  "x":{"field":"n","type":"quantitative","scale":{"domain":[0,155],"nice":false,"zero":false},
   "axis":{"orient":"bottom","values":[0,20,40,60,80,100,120,140],"labelExpr":"datum.value % 40 == 0 ? datum.label : ''","grid":false,
    "title":"Isomer’s number","titleFont":"Liberation Serif","titleFontSize":35,"titleFontWeight":"normal","titleColor":"black","titlePadding":-7,
    "labelFont":"Liberation Serif","labelFontSize":34,"labelColor":"black","labelPadding":32,"labelFlush":false,"labelOverlap":false,
    "domainColor":"black","domainWidth":2,"tickColor":"black","tickWidth":2,
    "tickSize":{"condition":{"test":"datum.value % 40 != 0","value":-12},"value":-24}}},
  "y":{"field":"v","type":"quantitative","scale":{"domain":[-0.08,0.06],"nice":false,"zero":false},
   "axis":{"orient":"left","values":[-0.08,-0.07,-0.06,-0.05,-0.04,-0.03,-0.02,-0.01,0,0.01,0.02,0.03,0.04,0.05,0.06],
    "labelExpr":"datum.value == 0 ? '0' : (abs(round(datum.value*100)) % 2 == 0 ? (datum.value < 0 ? '-' : '') + format(abs(datum.value), '.2f') : '')","grid":false,
    "title":"Cohesive Energy Differences (eV)","titleFont":"Liberation Serif","titleFontSize":35,"titleFontWeight":"normal","titleColor":"black","titlePadding":14,
    "labelFont":"Liberation Serif","labelFontSize":34,"labelColor":"black","labelPadding":36,"labelFlush":false,"labelOverlap":false,
    "domainColor":"black","domainWidth":2,"tickColor":"black","tickWidth":2,
    "tickSize":{"condition":{"test":"abs(round(datum.value*100)) % 2 == 1","value":-12},"value":-24}}},
  "shape":{"field":"s","type":"nominal","scale":{"domain":["a","t","g","m","w","i"],"range":["circle","circle","circle","circle","circle","square"]},
   "legend":{"title":null,"labelExpr":"datum.label == 'a' ? 'Adams et al' : datum.label == 't' ? 'Tersoff' : datum.label == 'g' ? 'ANₚ+ Bn⁻¹+ C' : datum.label == 'm' ? 'Moran-Lopez et al' : datum.label == 'w' ? 'Witten & Li' : 'Itoch et al'"}},
  "fill":{"field":"s","type":"nominal","scale":{"domain":["a","t","g","m","w","i"],"range":["#000000","#ff0000","#00ff00","#0000ff","#ffa500","transparent"]},
   "legend":{"title":null,"labelExpr":"datum.label == 'a' ? 'Adams et al' : datum.label == 't' ? 'Tersoff' : datum.label == 'g' ? 'ANₚ+ Bn⁻¹+ C' : datum.label == 'm' ? 'Moran-Lopez et al' : datum.label == 'w' ? 'Witten & Li' : 'Itoch et al'"}},
  "stroke":{"field":"s","type":"nominal","scale":{"domain":["a","t","g","m","w","i"],"range":["transparent","transparent","transparent","transparent","transparent","#0a8a0a"]},
   "legend":{"title":null,"labelExpr":"datum.label == 'a' ? 'Adams et al' : datum.label == 't' ? 'Tersoff' : datum.label == 'g' ? 'ANₚ+ Bn⁻¹+ C' : datum.label == 'm' ? 'Moran-Lopez et al' : datum.label == 'w' ? 'Witten & Li' : 'Itoch et al'"}},
  "size":{"field":"s","type":"nominal","scale":{"domain":["a","t","g","m","w","i"],"range":[55,55,55,55,55,140]},
   "legend":{"title":null,"labelExpr":"datum.label == 'a' ? 'Adams et al' : datum.label == 't' ? 'Tersoff' : datum.label == 'g' ? 'ANₚ+ Bn⁻¹+ C' : datum.label == 'm' ? 'Moran-Lopez et al' : datum.label == 'w' ? 'Witten & Li' : 'Itoch et al'"}}
 }},
{"mark":{"type":"point","opacity":0},
 "encoding":{
  "x":{"field":"n","type":"quantitative",
   "axis":{"orient":"top","values":[0,20,40,60,80,100,120,140],"labels":false,"title":null,"grid":false,
    "domainColor":"black","domainWidth":2,"tickColor":"black","tickWidth":2,
    "tickSize":{"condition":{"test":"datum.value % 40 != 0","value":-12},"value":-24}}},
  "y":{"field":"v","type":"quantitative",
   "axis":{"orient":"right","values":[-0.08,-0.07,-0.06,-0.05,-0.04,-0.03,-0.02,-0.01,0,0.01,0.02,0.03,0.04,0.05,0.06],"labels":false,"title":null,"grid":false,
    "domainColor":"black","domainWidth":2,"tickColor":"black","tickWidth":2,
    "tickSize":{"condition":{"test":"abs(round(datum.value*100)) % 2 == 1","value":-12},"value":-24}}}
 }}
],
"resolve":{"axis":{"x":"independent","y":"independent"}}
}
